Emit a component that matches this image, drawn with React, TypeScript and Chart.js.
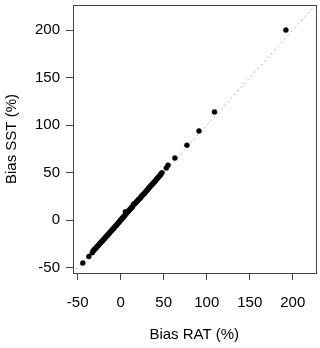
import React, { useEffect, useRef } from "react";
import { Chart, registerables } from "chart.js";

Chart.register(...registerables);

const biasRAT = [
  -44, -37,
  -33, -32, -31, -30, -29, -28, -27, -26, -25, -24, -23, -22, -21, -20, -19, -18, -17, -16, -15, -14, -13, -12, -11, -10, -9, -8, -7, -6, -5, -4, -3, -2, -1,
  0,
  1, 2, 3, 4, 5,
  5.5,
  6, 7, 8, 9, 10, 11, 12, 13, 14, 15, 16, 17, 18, 19, 20, 21, 22, 23, 24, 25, 26, 27, 28, 29, 30, 31, 32, 33, 34, 35, 36, 37, 38, 39, 40, 41, 42, 43, 44, 45, 46, 47, 48,
  53, 55, 63, 77, 91, 109, 192,
];
const biasSST = [
  -45, -38,
  -34, -32.5, -31, -30.5, -29, -28.5, -27, -26.5, -25.5, -24, -23.5, -22, -21.5, -20.5, -19, -18.5, -17, -16.5, -15.5, -14, -13.5, -12, -11, -10.5, -9, -8.5, -7, -6, -5.5, -4, -3, -2, -1,
  0.5,
  1, 2.5, 3, 4.5, 5,
  9,
  8, 7.5, 9, 9.5, 10.5, 12, 12.5, 14, 14.5, 17, 17.5, 18, 19, 20, 21, 22, 23, 23.5, 25, 26, 27, 28, 28.5, 30, 31, 32, 33, 34.5, 35, 36.5, 37, 38.5, 39, 40.5, 41, 42.5, 43.5, 44.5, 45.5, 46.5, 47.5, 49, 50,
  55, 58, 65.5, 79, 94, 114, 200,
];
const tickValues = [-50, 0, 50, 100, 150, 200];
const AXIS_MIN = -55.4;
const AXIS_MAX = 226.4;
const xTitle = "Bias RAT (%)";
const yTitle = "Bias SST (%)";

const FONT = "'Liberation Sans', Arial, sans-serif";
const FONT_SIZE = 15;

const boxPlugin = {
  id: "boxPlugin",
  afterDraw(chart: any) {
    const { ctx, chartArea } = chart;
    ctx.save();
    ctx.strokeStyle = "#444";
    ctx.lineWidth = 1;
    ctx.strokeRect(
      Math.round(chartArea.left) + 0.5,
      Math.round(chartArea.top) + 0.5,
      Math.round(chartArea.right - chartArea.left),
      Math.round(chartArea.bottom - chartArea.top)
    );
    ctx.restore();
  },
};

export default function App() {
  const canvasRef = useRef<HTMLCanvasElement | null>(null);

  useEffect(() => {
    if (!canvasRef.current) return;
    const points = biasRAT.map((x, i) => ({ x, y: biasSST[i] }));
    const chart = new Chart(canvasRef.current, {
      type: "scatter",
      data: {
        datasets: [
          {
            type: "line",
            data: [
              { x: AXIS_MIN, y: AXIS_MIN },
              { x: AXIS_MAX, y: AXIS_MAX },
            ],
            borderColor: "#b0b0b0",
            borderWidth: 1,
            borderDash: [2, 3],
            pointRadius: 0,
            fill: false,
            order: 2,
          } as any,
          {
            data: points,
            backgroundColor: "#000",
            borderColor: "#000",
            pointRadius: 2.5,
            pointBorderWidth: 0.5,
            order: 1,
          },
        ],
      },
      options: {
        responsive: false,
        animation: false,
        events: [],
        layout: { padding: { left: 0, top: 5, right: 4, bottom: 0 } },
        plugins: {
          legend: { display: false },
          tooltip: { enabled: false },
        },
        scales: {
          x: {
            type: "linear",
            min: AXIS_MIN,
            max: AXIS_MAX,
            afterBuildTicks: (scale: any) => {
              scale.ticks = tickValues.map((v) => ({ value: v }));
            },
            afterFit: (scale: any) => {
              scale.height = 75;
              scale.paddingLeft = 0;
              scale.paddingRight = 0;
            },
            grid: {
              drawOnChartArea: false,
              drawTicks: true,
              tickLength: 7,
              tickColor: "#444",
            },
            border: { display: false },
            ticks: {
              color: "#000",
              font: { family: FONT, size: FONT_SIZE },
              padding: 14,
              maxRotation: 0,
              autoSkip: false,
            },
            title: {
              display: true,
              text: xTitle,
              color: "#000",
              font: { family: FONT, size: FONT_SIZE },
              padding: { top: 0, bottom: 4 },
            },
          },
          y: {
            type: "linear",
            min: AXIS_MIN,
            max: AXIS_MAX,
            afterBuildTicks: (scale: any) => {
              scale.ticks = tickValues.map((v) => ({ value: v }));
            },
            afterFit: (scale: any) => {
              scale.width = 73;
              scale.paddingTop = 0;
              scale.paddingBottom = 0;
            },
            grid: {
              drawOnChartArea: false,
              drawTicks: true,
              tickLength: 7,
              tickColor: "#444",
            },
            border: { display: false },
            ticks: {
              color: "#000",
              font: { family: FONT, size: FONT_SIZE },
              padding: 6,
              autoSkip: false,
            },
            title: {
              display: true,
              text: yTitle,
              color: "#000",
              font: { family: FONT, size: FONT_SIZE },
              padding: { top: 3, bottom: 0 },
            },
          },
        },
      },
      plugins: [boxPlugin],
    });
    return () => chart.destroy();
  }, []);

  return (
    <div style={{ position: "fixed", left: 0, top: 0, width: 320, height: 348, background: "#fff" }}>
      <canvas ref={canvasRef} width={320} height={348} style={{ display: "block" }} />
    </div>
  );
}
